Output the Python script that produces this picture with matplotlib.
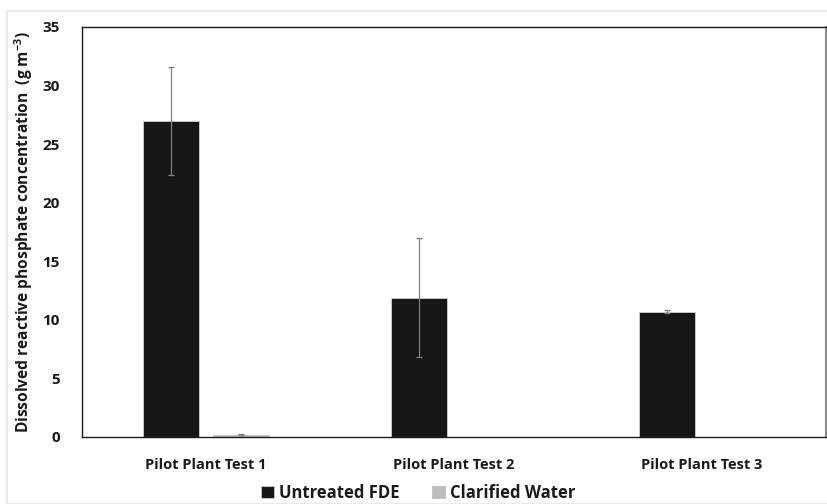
import matplotlib
matplotlib.use("Agg")
import matplotlib.pyplot as plt
from matplotlib.patches import Rectangle
import numpy as np

plt.rcParams['font.family'] = ['Open Sans', 'DejaVu Sans']
plt.rcParams['mathtext.fontset'] = 'custom'
plt.rcParams['mathtext.rm'] = 'Open Sans:bold'
plt.rcParams['mathtext.bf'] = 'Open Sans:bold'

categories = ["Pilot Plant Test 1", "Pilot Plant Test 2", "Pilot Plant Test 3"]
untreated = [27.0, 11.9, 10.7]
untreated_err = [4.6, 5.05, 0.15]
clarified = [0.2, 0.0, 0.0]
clarified_err = [0.05, 0.0, 0.0]
series_names = ["Untreated FDE", "Clarified Water"]
yticks = [0, 5, 10, 15, 20, 25, 30, 35]

fig = plt.figure(figsize=(8.28, 5.04), dpi=100)
fig.patches.append(Rectangle((7/828, 0), 1, 1 - 11/504, transform=fig.transFigure,
                             fill=False, edgecolor="#e6e6e6", linewidth=1.2))
ax = fig.add_axes([82/828, 1 - 437/504, (826 - 82)/828, (437 - 27)/504])

x = np.arange(len(categories))
w = 0.226
off = 0.143
ekw = dict(ecolor="#7f7f7f", elinewidth=0.9, capsize=2, capthick=0.9)


def err_or_none(errs):
    # skip error bars for zero-height bars
    return [e if e > 0 else np.nan for e in errs]


ax.bar(x - off, untreated, w, color="#161616", edgecolor="#d0d0d0", linewidth=0.6,
       yerr=err_or_none(untreated_err), error_kw=ekw, label=series_names[0])
ax.bar(x + off, clarified, w, color="#bdbdbd", edgecolor="#bdbdbd", linewidth=0.6,
       yerr=err_or_none(clarified_err), error_kw=ekw, label=series_names[1])

ax.set_xlim(-0.5, 2.5)
ax.set_ylim(0, 35)
ax.set_yticks(yticks)
ax.set_xticks(x)
ax.set_xticklabels(categories, fontsize=10.5, fontweight="bold", color="#1a1a1a")
ax.tick_params(axis="both", length=0)
ax.tick_params(axis="x", pad=15)
ax.tick_params(axis="y", pad=16)
for lab in ax.get_yticklabels():
    lab.set_fontsize(11)
    lab.set_fontweight("bold")
    lab.set_color("#1a1a1a")

for side in ("top", "left", "bottom"):
    ax.spines[side].set_color("#1a1a1a")
    ax.spines[side].set_linewidth(1.0)
ax.spines["right"].set_color("#8c8c8c")
ax.spines["right"].set_linewidth(1.5)

ax.set_ylabel("Dissolved reactive phosphate concentration  (g m$^{-3}$)",
              fontsize=11.2, fontweight="bold", color="#1a1a1a", labelpad=5)

leg = fig.legend(loc="lower center", bbox_to_anchor=(0.505, -0.025), ncol=2, frameon=False,
                 prop={"size": 12, "weight": "bold"}, handlelength=0.75, handleheight=0.75,
                 handletextpad=0.3, columnspacing=2.0)
for t in leg.get_texts():
    t.set_color("#1a1a1a")

fig.savefig("out.png", dpi=100)
